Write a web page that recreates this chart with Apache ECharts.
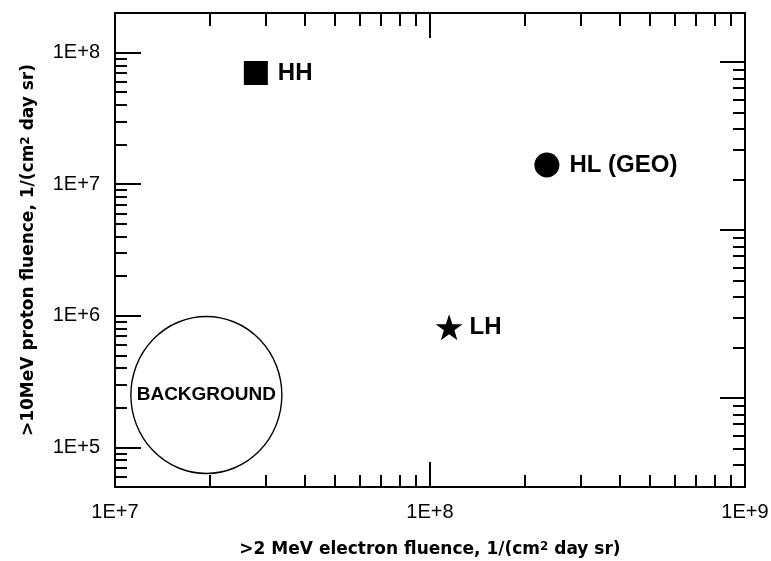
<!DOCTYPE html>
<html><head><meta charset="utf-8">
<script src="https://cdn.jsdelivr.net/npm/echarts@6/dist/echarts.min.js"></script>
<style>html,body{margin:0;padding:0;background:#fff}#chart{width:771px;height:561px}</style>
</head><body><div id="chart"></div>
<script>
// ---- data ----
const pointNames = ['HH', 'HL (GEO)', 'LH'];
const electronFluence = [2.8e7, 2.35e8, 1.15e8];
const protonFluence = [7.0e7, 1.4e7, 8.2e5];
const backgroundName = 'BACKGROUND';
const backgroundElectron = [1.95e7];
const backgroundProton = [2.5e5];

const xMajorTicks = [1e7, 1e8, 1e9];
const xTickLabels = ['1E+7', '1E+8', '1E+9'];
const xMinorTicks = [2e7, 3e7, 4e7, 5e7, 6e7, 7e7, 8e7, 9e7, 2e8, 3e8, 4e8, 5e8, 6e8, 7e8, 8e8, 9e8];
const yMajorTicks = [1e5, 1e6, 1e7, 1e8];
const yTickLabels = ['1E+5', '1E+6', '1E+7', '1E+8'];
const yMinorTicks = [6e4, 7e4, 8e4, 9e4, 2e5, 3e5, 4e5, 5e5, 6e5, 7e5, 8e5, 9e5,
  2e6, 3e6, 4e6, 5e6, 6e6, 7e6, 8e6, 9e6, 2e7, 3e7, 4e7, 5e7, 6e7, 7e7, 8e7, 9e7];
const rightMajorTicks = [1, 10, 100];
const rightMinorTicks = [0.4, 0.5, 0.6, 0.7, 0.8, 0.9, 2, 3, 4, 5, 6, 7, 8, 9, 20, 30, 40, 50, 60, 70, 80, 90];

const xTitle = '>2 MeV electron fluence, 1/(cm{sup|2} day sr)';
const yTitle = '>10MeV proton fluence, 1/(cm{sup|2} day sr)';

// ---- styles ----
const X_MIN = 1e7, X_MAX = 1e9, Y_MIN = 5e4, Y_MAX = 2e8, R_MIN = 0.2953, R_MAX = 195.7;
const markerSymbols = ['rect', 'circle', 'path://M50,0 L61.8,35.1 L98.1,35.1 L68.8,56.7 L79.4,91 L50,70 L20.6,91 L31.2,56.7 L1.9,35.1 L38.2,35.1 Z'];
const markerSizes = [24, 25, [27, 26]];
const labelDistances = [10, 10, 7];

function labelFor(v, ticks, labels) {
  let best = 0, bd = Infinity;
  ticks.forEach((t, i) => {
    const d = Math.abs(Math.log10(t) - Math.log10(v));
    if (d < bd) { bd = d; best = i; }
  });
  return bd < 1e-3 ? labels[best] : '';
}

function makeAxis(opts) {
  return Object.assign({
    type: 'log', logBase: 10,
    splitLine: { show: false },
    axisLine: { show: false, onZero: false },
    axisLabel: { show: false },
    axisPointer: { show: false }
  }, opts);
}
const tickLine = { color: '#000', width: 2 };
const axisLine = { show: true, onZero: false, lineStyle: { color: '#000', width: 2 } };
const hiddenLine = { show: false, onZero: false };
const labelFont = { color: '#000', fontFamily: 'Liberation Sans', fontSize: 20 };
const titleFont = {
  color: '#000', fontFamily: 'DejaVu Sans', fontWeight: 'bold', fontSize: 17,
  rich: { sup: { fontFamily: 'DejaVu Sans', fontWeight: 'bold', fontSize: 12, verticalAlign: 'top', color: '#000' } }
};

const chart = echarts.init(document.getElementById('chart'), null, { renderer: 'canvas' });

const series = pointNames.map((name, i) => ({
  type: 'scatter', name: name, xAxisIndex: 0, yAxisIndex: 0, z: 3,
  symbol: markerSymbols[i], symbolSize: markerSizes[i],
  itemStyle: { color: '#000', opacity: 1 },
  label: {
    show: true, position: 'right', distance: labelDistances[i], formatter: name, opacity: 1,
    color: '#000', fontFamily: 'Liberation Sans', fontSize: 24, fontWeight: 'bold'
  },
  data: [[electronFluence[i], protonFluence[i]]]
}));
series.push({
  type: 'scatter', name: backgroundName, xAxisIndex: 0, yAxisIndex: 0,
  symbol: 'circle', symbolSize: [151, 157], z: 1,
  itemStyle: { color: 'rgba(0,0,0,0)', borderColor: '#000', borderWidth: 1.4, opacity: 1 },
  label: {
    show: true, position: 'inside', formatter: backgroundName, opacity: 1,
    color: '#000', fontFamily: 'Liberation Sans', fontSize: 19, fontWeight: 'bold'
  },
  data: backgroundElectron.map((x, i) => [x, backgroundProton[i]])
});

chart.setOption({
  animation: false,
  backgroundColor: '#fff',
  grid: { left: 115, right: 26, top: 13, bottom: 74, containLabel: false, outerBoundsMode: 'none' },
  xAxis: [
    makeAxis({
      position: 'bottom', min: X_MIN, max: X_MAX, axisLine: axisLine,
      axisTick: { show: true, inside: true, length: 25, lineStyle: tickLine, customValues: xMajorTicks },
      axisLabel: Object.assign({ show: true, margin: 15, showMinLabel: true, showMaxLabel: true, hideOverlap: false,
        customValues: xMajorTicks, formatter: v => labelFor(v, xMajorTicks, xTickLabels) }, labelFont),
      name: xTitle, nameLocation: 'middle', nameGap: 54, nameTextStyle: titleFont
    }),
    makeAxis({ position: 'bottom', min: X_MIN, max: X_MAX, axisLine: hiddenLine,
      axisTick: { show: true, inside: true, length: 12, lineStyle: tickLine, customValues: xMinorTicks } }),
    makeAxis({ position: 'top', min: X_MIN, max: X_MAX, axisLine: axisLine,
      axisTick: { show: true, inside: true, length: 25, lineStyle: tickLine, customValues: xMajorTicks } }),
    makeAxis({ position: 'top', min: X_MIN, max: X_MAX, axisLine: hiddenLine,
      axisTick: { show: true, inside: true, length: 13, lineStyle: tickLine, customValues: xMinorTicks } })
  ],
  yAxis: [
    makeAxis({
      position: 'left', min: Y_MIN, max: Y_MAX, axisLine: axisLine,
      axisTick: { show: true, inside: true, length: 26, lineStyle: tickLine, customValues: yMajorTicks },
      axisLabel: Object.assign({ show: true, margin: 15, showMinLabel: true, showMaxLabel: true, hideOverlap: false,
        customValues: yMajorTicks, formatter: v => labelFor(v, yMajorTicks, yTickLabels) }, labelFont),
      name: yTitle, nameLocation: 'middle', nameRotate: 90, nameGap: 78, nameTextStyle: titleFont
    }),
    makeAxis({ position: 'left', min: Y_MIN, max: Y_MAX, axisLine: hiddenLine,
      axisTick: { show: true, inside: true, length: 12, lineStyle: tickLine, customValues: yMinorTicks } }),
    makeAxis({ position: 'right', min: R_MIN, max: R_MAX, axisLine: axisLine,
      axisTick: { show: true, inside: true, length: 25, lineStyle: tickLine, customValues: rightMajorTicks } }),
    makeAxis({ position: 'right', min: R_MIN, max: R_MAX, axisLine: hiddenLine,
      axisTick: { show: true, inside: true, length: 12, lineStyle: tickLine, customValues: rightMinorTicks } })
  ],
  series: series
});
</script>
</body></html>
